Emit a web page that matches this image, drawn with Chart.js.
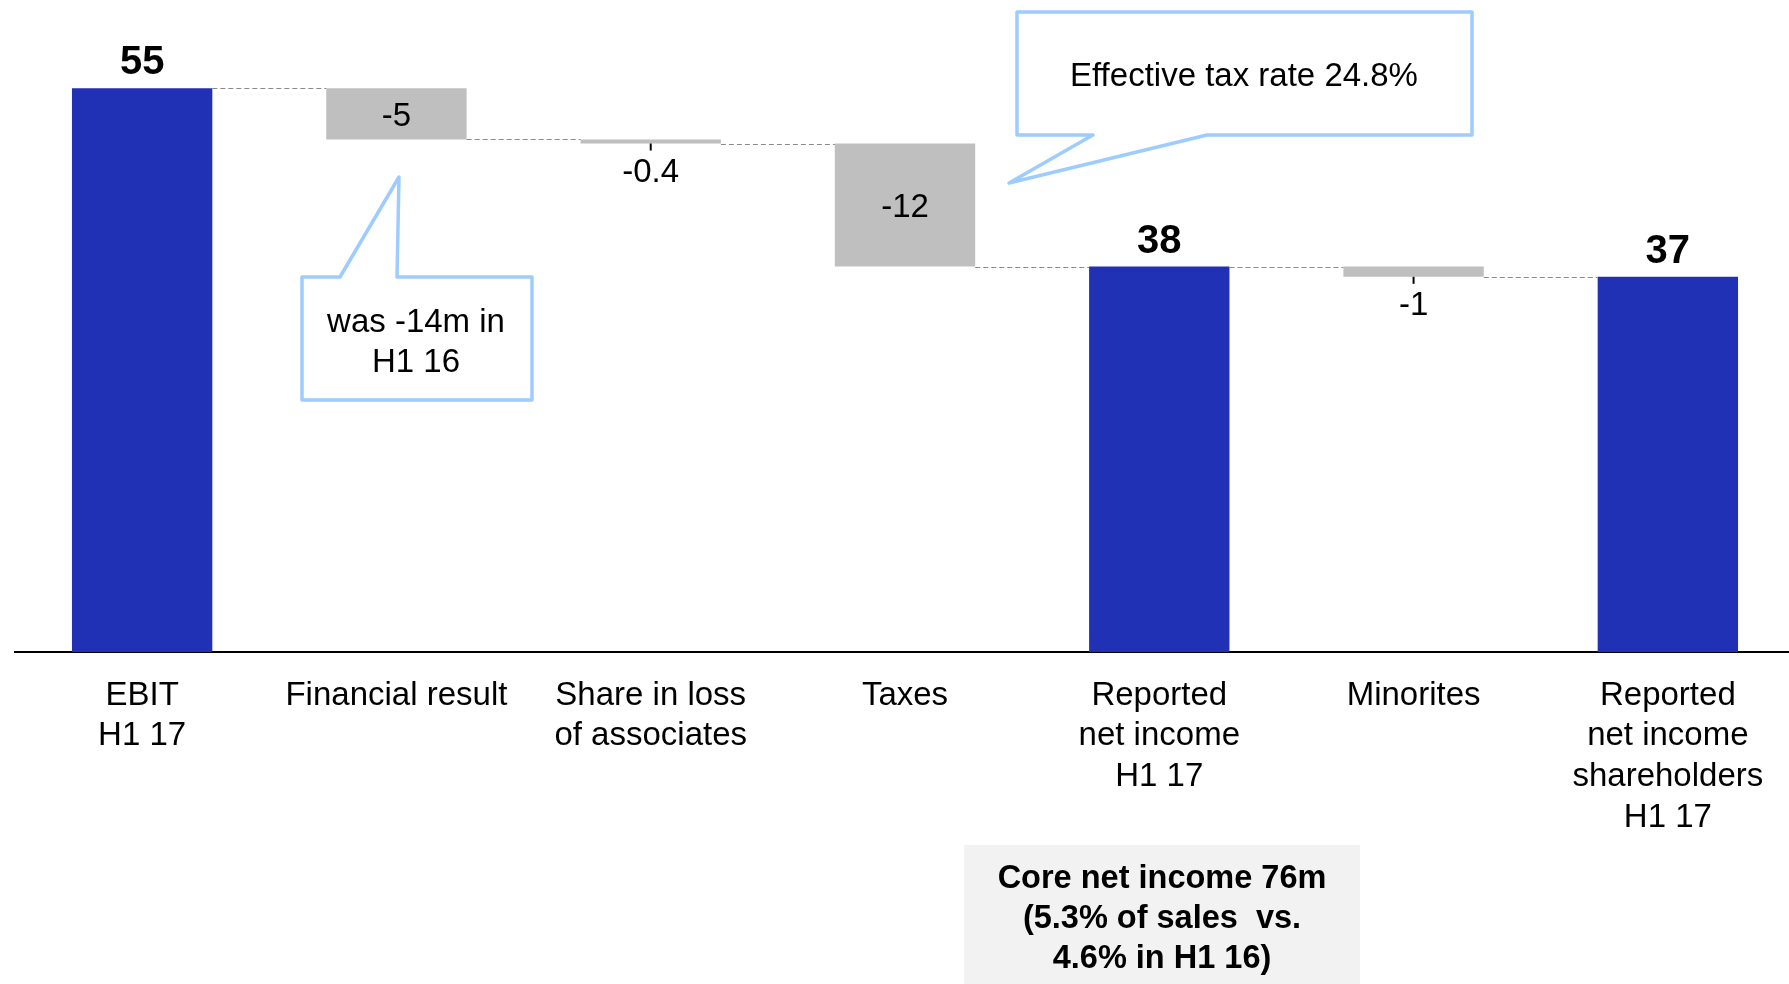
<!DOCTYPE html>
<html><head><meta charset="utf-8">
<script src="https://cdn.jsdelivr.net/npm/chart.js@4/dist/chart.umd.min.js"></script>
<style>html,body{margin:0;padding:0;background:#fff;overflow:hidden}#wrap{position:relative;width:1789px;height:984px;overflow:hidden}</style>
</head><body><div id="wrap"><canvas id="c" width="1795" height="984"></canvas></div>
<script>
// ---- data ----
const categories = [["EBIT","H1 17"],["Financial result"],["Share in loss","of associates"],["Taxes"],["Reported","net income","H1 17"],["Minorites"],["Reported","net income","shareholders","H1 17"]];
const values = [55, -5, -0.4, -12, 37.6, -1, 36.6];
const isTotal = [true, false, false, false, true, false, true];
const yMin = 0, yMax = 63.6;
const taxNote = "Effective tax rate 24.8%";
const finNote = ["was -14m in", "H1 16"];
const coreNote = ["Core net income 76m", "(5.3% of sales  vs.", "4.6% in H1 16)"];

// ---- build floating ranges ----
const ranges = [], ends = [];
let run = 0;
values.forEach((v, i) => {
  if (isTotal[i]) { ranges.push([0, v]); run = v; }
  else { ranges.push([run + v, run]); run = run + v; }
  ends.push(run);
});
const labelText = values.map((v, i) => isTotal[i] ? String(Math.round(v)) : String(v));

const FONT = '"Liberation Sans", Arial, sans-serif';
const BLUE = '#2031B6', GREY = '#BFBFBF', CALLOUT = '#9ECCFF';

const overlay = {
  id: 'overlay',
  afterDatasetsDraw(chart) {
    const ctx = chart.ctx, y = chart.scales.y;
    const bars = chart.getDatasetMeta(0).data;
    ctx.save();
    // connectors
    ctx.strokeStyle = '#8a8a8a'; ctx.lineWidth = 1.2; ctx.setLineDash([5, 3]);
    for (let i = 0; i < bars.length - 1; i++) {
      const a = bars[i], b = bars[i + 1];
      const py = Math.round(y.getPixelForValue(ends[i])) + 0.5;
      ctx.beginPath();
      ctx.moveTo(a.x + a.width / 2, py);
      ctx.lineTo(b.x - b.width / 2, py);
      ctx.stroke();
    }
    ctx.setLineDash([]);
    // value labels
    ctx.textAlign = 'center'; ctx.textBaseline = 'middle'; ctx.fillStyle = '#000';
    bars.forEach((bar, i) => {
      const top = Math.min(bar.y, bar.base), bottom = Math.max(bar.y, bar.base);
      if (isTotal[i]) {
        ctx.font = 'bold 40px ' + FONT;
        ctx.fillText(labelText[i], bar.x, top - 25);
      } else if (bottom - top > 30) {
        ctx.font = '33px ' + FONT;
        ctx.fillText(labelText[i], bar.x, (top + bottom) / 2 + 3);
      } else {
        ctx.strokeStyle = '#000'; ctx.lineWidth = 2;
        ctx.beginPath(); ctx.moveTo(bar.x, bottom); ctx.lineTo(bar.x, bottom + 7); ctx.stroke();
        ctx.font = '33px ' + FONT;
        ctx.fillText(labelText[i], bar.x, bottom + 29);
      }
    });
    ctx.restore();
  },
  afterDraw(chart) {
    const ctx = chart.ctx;
    ctx.save();
    ctx.lineWidth = 3.5; ctx.lineJoin = 'round'; ctx.strokeStyle = CALLOUT; ctx.fillStyle = '#fff';
    // tax callout
    ctx.beginPath();
    ctx.moveTo(1017, 12); ctx.lineTo(1472, 12); ctx.lineTo(1472, 135); ctx.lineTo(1207, 135);
    ctx.lineTo(1009, 183); ctx.lineTo(1093, 135); ctx.lineTo(1017, 135); ctx.closePath();
    ctx.fill(); ctx.stroke();
    // financial callout
    ctx.beginPath();
    ctx.moveTo(302, 277); ctx.lineTo(340, 277); ctx.lineTo(399, 177); ctx.lineTo(397, 277);
    ctx.lineTo(532, 277); ctx.lineTo(532, 400); ctx.lineTo(302, 400); ctx.closePath();
    ctx.fill(); ctx.stroke();
    ctx.fillStyle = '#000'; ctx.textAlign = 'center'; ctx.textBaseline = 'middle';
    ctx.font = '33px ' + FONT;
    ctx.fillText(taxNote, 1244, 77);
    ctx.fillText(finNote[0], 416, 323);
    ctx.fillText(finNote[1], 416, 363);
    // core box
    ctx.fillStyle = '#F2F2F2';
    ctx.fillRect(964, 845, 396, 139);
    ctx.fillStyle = '#000';
    ctx.font = 'bold 32.5px ' + FONT;
    coreNote.forEach((t, k) => ctx.fillText(t, 1162, 879 + k * 40));
    ctx.restore();
  }
};

new Chart(document.getElementById('c'), {
  type: 'bar',
  data: {
    labels: categories,
    datasets: [{
      data: ranges,
      backgroundColor: values.map((v, i) => isTotal[i] ? BLUE : GREY),
      borderWidth: 0,
      categoryPercentage: 1,
      barPercentage: 0.552
    }]
  },
  options: {
    responsive: false,
    animation: false,
    devicePixelRatio: 1,
    layout: { padding: { left: 15, right: 0, top: 0, bottom: 0 } },
    plugins: { legend: { display: false }, tooltip: { enabled: false }, title: { display: false } },
    scales: {
      x: {
        offset: true,
        grid: { display: false, drawTicks: false },
        border: { display: true, color: '#000', width: 2 },
        ticks: { color: '#000', font: { family: FONT, size: 33, lineHeight: 1.24 }, padding: 23, maxRotation: 0, minRotation: 0, autoSkip: false },
        afterFit(s) { s.height = 332; }
      },
      y: { display: false, min: yMin, max: yMax }
    }
  },
  plugins: [overlay]
});
</script>
</body></html>
